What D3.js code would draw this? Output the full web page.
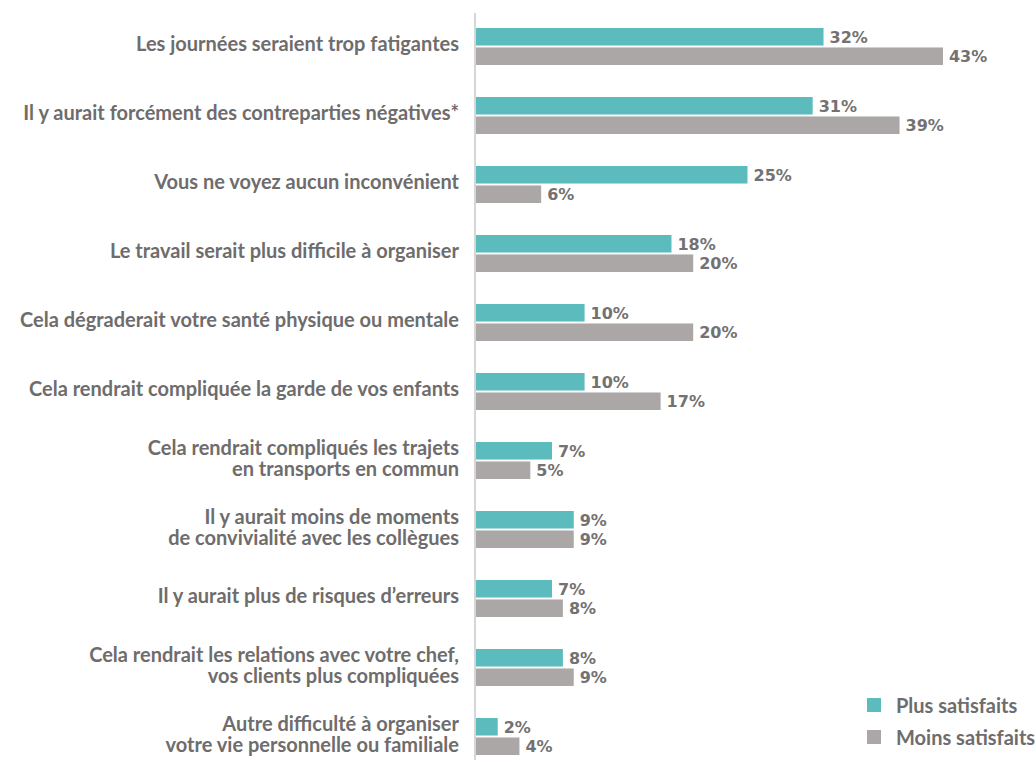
<!DOCTYPE html>
<html>
<head>
<meta charset="utf-8">
<script src="https://cdn.jsdelivr.net/npm/d3@7"></script>
<style>
  body { margin: 0; background: #fff; }
  text { font-family: Lato, "Open Sans", sans-serif; font-weight: 700; fill: #6e6c6c; }
  text.val { font-family: "DejaVu Sans", sans-serif; fill: #737171; }
</style>
</head>
<body>
<div id="chart"></div>
<script>
"use strict";

const width = 1036,
      height = 760;

// data
const categories = [
  ["Les journées seraient trop fatigantes"],
  ["Il y aurait forcément des contreparties négatives*"],
  ["Vous ne voyez aucun inconvénient"],
  ["Le travail serait plus difficile à organiser"],
  ["Cela dégraderait votre santé physique ou mentale"],
  ["Cela rendrait compliquée la garde de vos enfants"],
  ["Cela rendrait compliqués les trajets", "en transports en commun"],
  ["Il y aurait moins de moments", "de convivialité avec les collègues"],
  ["Il y aurait plus de risques d’erreurs"],
  ["Cela rendrait les relations avec votre chef,", "vos clients plus compliquées"],
  ["Autre difficulté à organiser", "votre vie personnelle ou familiale"]
];
const series = ["Plus satisfaits", "Moins satisfaits"];
const plusValues = [32, 31, 25, 18, 10, 10, 7, 9, 7, 8, 2];
const moinsValues = [43, 39, 6, 20, 20, 17, 5, 9, 8, 9, 4];
const colors = ["#5cbbbc", "#aba7a6"];

const rows = categories.map((c, i) => ({
  id: i,
  label: c,
  values: [plusValues[i], moinsValues[i]]
}));

const svg = d3.select("#chart")
  .append("svg")
  .attr("width", width)
  .attr("height", height);

const x = d3.scaleLinear()
  .domain([0, 50])
  .range([476, 1019]);

const y = d3.scaleBand()
  .domain(rows.map(d => d.id))
  .range([28, 755])
  .paddingInner(0.464)
  .paddingOuter(0);

const ySub = d3.scaleBand()
  .domain(series)
  .range([0, y.bandwidth()])
  .paddingInner(0.1);

// vertical axis line
svg.append("line")
  .attr("x1", 475).attr("x2", 475)
  .attr("y1", 13).attr("y2", height)
  .attr("stroke", "#d6d6d6")
  .attr("stroke-width", 2);

const group = svg.selectAll("g.row")
  .data(rows)
  .join("g")
    .attr("class", "row")
    .attr("transform", d => `translate(0,${y(d.id)})`);

group.selectAll("rect")
  .data(d => d.values.map((v, i) => ({ v, s: series[i], c: colors[i] })))
  .join("rect")
    .attr("x", x(0))
    .attr("y", d => ySub(d.s))
    .attr("width", d => x(d.v) - x(0))
    .attr("height", ySub.bandwidth())
    .attr("fill", d => d.c);

group.selectAll("text.val")
  .data(d => d.values.map((v, i) => ({ v, s: series[i] })))
  .join("text")
    .attr("class", "val")
    .attr("x", d => x(d.v) + 6)
    .attr("y", d => ySub(d.s) + ySub.bandwidth() / 2)
    .attr("dy", "0.37em")
    .style("font-size", "16px")
    .text(d => d.v + "%");

const lineH = 22;
group.append("text")
  .attr("class", "cat")
  .attr("text-anchor", "end")
  .style("font-size", "20px")
  .each(function(d) {
    const n = d.label.length;
    const mid = y.bandwidth() / 2;
    d3.select(this).selectAll("tspan")
      .data(d.label)
      .join("tspan")
        .attr("x", 459)
        .attr("y", (t, i) => mid + (i - (n - 1) / 2) * lineH)
        .attr("dy", "0.25em")
        .text(t => t);
  });

// legend
const legend = svg.append("g")
  .attr("transform", "translate(867,698)");

const li = legend.selectAll("g")
  .data(series)
  .join("g")
    .attr("transform", (d, i) => `translate(0,${i * 32})`);

li.append("rect")
  .attr("width", 14)
  .attr("height", 14)
  .attr("fill", (d, i) => colors[i]);

li.append("text")
  .attr("x", 29)
  .attr("y", 9)
  .attr("dy", "0.3em")
  .style("font-size", "20px")
  .text(d => d);
</script>
</body>
</html>
